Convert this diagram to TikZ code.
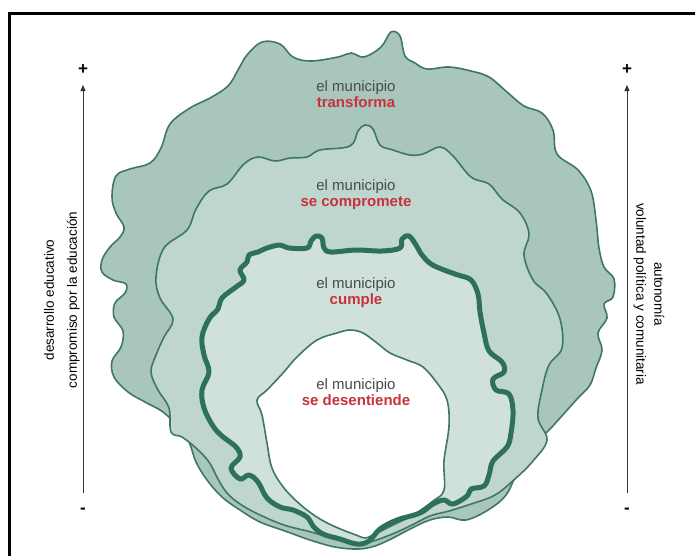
\documentclass[tikz,border=0pt]{standalone}
\usepackage{fontspec}
\setmainfont{Liberation Sans}
\usetikzlibrary{arrows.meta}
\definecolor{myline}{HTML}{3E7864}
\definecolor{mythick}{HTML}{2D7157}
\definecolor{filltransf}{HTML}{A9C6BC}
\definecolor{fillcompr}{HTML}{BED6CD}
\definecolor{fillcumple}{HTML}{CFE1DA}
\definecolor{mygray}{HTML}{4A4A55}
\definecolor{myred}{HTML}{C8323D}
\newcommand{\levellabel}[1]{\textcolor{mygray}{el municipio}\\\textcolor{myred}{\bfseries #1}}

\begin{document}
\begin{tikzpicture}[
    x=1pt, y=-1pt,
    blob/.style={draw=myline, line width=1.6pt, line join=round},
    axis/.style={draw=black!80, line width=0.9pt, -{Triangle[width=5pt,length=6pt]}},
    sign/.style={font=\fontsize{17}{17}\selectfont\bfseries, inner sep=0pt},
    side/.style={font=\fontsize{13.5}{17}\selectfont, align=center, inner sep=0pt},
    level/.style={font=\fontsize{15}{16}\selectfont, align=center, inner sep=0pt}
]
  \useasboundingbox (0,0) rectangle (695,555);
  \draw[line width=3pt] (9,556) -- (9,13) -- (696,13);

  % transforma
  \filldraw[blob, fill=filltransf] plot[smooth cycle, tension=0.6] coordinates {
    (247,55) (262,42) (280,44) (293,57) (311,61) (338,57) (351,53) (364,57)
    (381,47) (391,32) (400,36) (405,56) (415,63) (427,69) (449,67) (471,71)
    (489,77) (507,92) (524,106) (542,113) (553,130) (557,154) (578,170)
    (591,191) (596,220) (599,248) (604,267) (614,279) (613,297) (604,304)
    (607,318) (598,333) (602,350) (596,368) (590,385) (578,398) (560,418)
    (547,432) (530,446) (518,470) (506,495) (488,510) (466,520) (448,517)
    (430,520) (412,528) (393,538) (375,546) (358,549) (335,547) (310,540)
    (285,531) (260,522) (240,510) (222,497) (207,480) (196,462) (189,442)
    (178,427) (163,412) (145,402) (128,392) (114,377) (112,361) (121,347)
    (123,331) (114,317) (115,303) (125,293) (126,284) (113,280) (102,272)
    (102,260) (110,247) (120,237) (124,227) (116,213) (112,197) (116,176)
    (130,169) (150,163) (161,148) (170,124) (190,108) (210,98) (228,86)
    (238,70)};

  % se compromete
  \filldraw[blob, fill=fillcompr] plot[smooth cycle, tension=0.6] coordinates {
    (196,209) (209,191) (227,184) (244,164) (258,157) (275,161) (290,158)
    (307,157) (320,150) (350,146) (358,131) (365,125) (373,129) (380,145)
    (393,150) (410,155) (423,154) (440,147) (453,156) (471,177) (489,184)
    (502,199) (520,213) (529,234) (524,255) (533,280) (547,294) (560,319)
    (562,348) (549,365) (542,390) (538,418) (547,440) (533,461) (516,478)
    (495,495) (471,504) (449,511) (430,516) (410,526) (390,535) (370,542)
    (356,544) (338,540) (311,532) (284,525) (258,514) (240,504) (227,493)
    (218,479) (209,462) (196,448) (182,437) (171,432) (169,408) (158,390)
    (151,372) (156,355) (164,337) (173,319) (160,298) (156,277) (164,248)
    (187,230)};

  % cumple
  \path[fill=fillcumple] plot[smooth cycle, tension=0.6] coordinates {
    (267,248) (280,245) (289,248) (307,248) (311,241) (316,236) (322,238)
    (324,248) (331,252) (356,250) (382,251) (400,248) (402,239) (409,236)
    (416,245) (422,255) (431,264) (444,270) (458,275) (471,280) (478,294)
    (480,312) (484,333) (489,351) (502,362) (504,372) (493,379) (496,390)
    (509,394) (513,411) (511,433) (507,447) (493,461) (489,475) (484,486)
    (471,489) (467,496) (453,504) (444,500) (433,504) (420,513) (397,520)
    (380,529) (369,541) (357,544) (340,539) (323,534) (313,526) (307,517)
    (293,510) (280,507) (267,498) (258,482) (249,475) (240,479) (231,468)
    (240,457) (236,447) (222,436) (213,426) (204,408) (202,390) (209,372)
    (204,355) (202,337) (209,319) (218,309) (222,298) (236,287) (244,280)
    (240,270) (247,262) (249,255) (258,252)};

  % se desentiende
  \filldraw[blob, fill=white] plot[smooth cycle, tension=0.6] coordinates {
    (257,400) (267,390) (283,373) (297,357) (317,340) (337,333) (350,330)
    (363,333) (377,343) (390,353) (407,360) (423,367) (437,383) (447,400)
    (449,426) (444,461) (444,490) (433,501) (413,515) (391,526) (373,535)
    (365,538) (356,535) (338,528) (320,519) (302,506) (284,488) (272,468)
    (267,443) (262,415)};

  \draw[draw=mythick, line width=5pt, line join=round] plot[smooth cycle, tension=0.6] coordinates {
    (267,248) (280,245) (289,248) (307,248) (311,241) (316,236) (322,238)
    (324,248) (331,252) (356,250) (382,251) (400,248) (402,239) (409,236)
    (416,245) (422,255) (431,264) (444,270) (458,275) (471,280) (478,294)
    (480,312) (484,333) (489,351) (502,362) (504,372) (493,379) (496,390)
    (509,394) (513,411) (511,433) (507,447) (493,461) (489,475) (484,486)
    (471,489) (467,496) (453,504) (444,500) (433,504) (420,513) (397,520)
    (380,529) (369,541) (357,544) (340,539) (323,534) (313,526) (307,517)
    (293,510) (280,507) (267,498) (258,482) (249,475) (240,479) (231,468)
    (240,457) (236,447) (222,436) (213,426) (204,408) (202,390) (209,372)
    (204,355) (202,337) (209,319) (218,309) (222,298) (236,287) (244,280)
    (240,270) (247,262) (249,255) (258,252)};

  \node[level] (transforma) at (356,94) {\levellabel{transforma}};
  \node[level] (compromete) at (356,195) {\levellabel{se compromete}};
  \node[level] (cumple) at (356,293) {\levellabel{cumple}};
  \node[level] (desentiende) at (356,392) {\levellabel{se desentiende}};

  % left axis
  \node[sign] (lplus) at (83,70) {+};
  \node[sign] (lminus) at (83,511) {-};
  \draw[axis, shorten <=18pt, shorten >=15pt] (lminus.center) -- (lplus.center);
  \node[side, rotate=90] (desarrollo) at (62,300)
  {desarrollo educativo\\[6pt] compromiso por la educación};

  % right axis
  \node[sign] (rplus) at (627,70) {+};
  \node[sign] (rminus) at (627,511) {-};
  \draw[axis, shorten <=18pt, shorten >=15pt] (rminus.center) -- (rplus.center);
  \node[side, rotate=-90] (autonomia) at (649,294)
  {autonomía\\[1pt] voluntad política y comunitaria};
\end{tikzpicture}
\end{document}
